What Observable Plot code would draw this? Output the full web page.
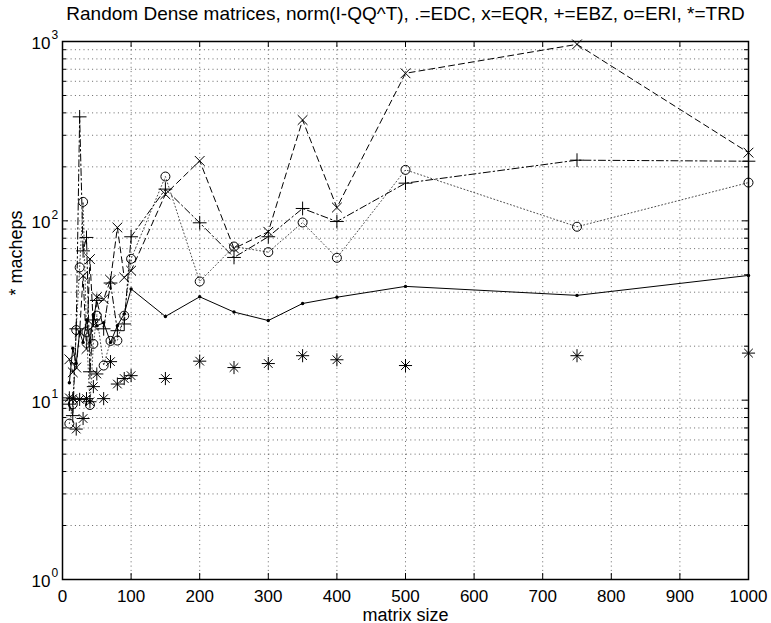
<!DOCTYPE html>
<html><head><meta charset="utf-8">
<script src="https://cdn.jsdelivr.net/npm/d3@7"></script>
<script src="https://cdn.jsdelivr.net/npm/@observablehq/plot@0.6"></script>
<style>body{margin:0;background:#fff}</style>
</head><body><div id="chart"></div>
<script>
const titleText = "Random Dense matrices, norm(I-QQ^T), .=EDC, x=EQR, +=EBZ, o=ERI, *=TRD";
const xLabel = "matrix size";
const yLabel = "* macheps";

const sizes = [10,15,20,25,30,35,40,45,50,60,70,80,90,100,150,200,250,300,350,400,500,750,1000];
const edc = [12.5,19.5,16,24,21,28,21,30,26,27,21,26,30.3,41.7,29.3,37.7,31.0,27.8,34.6,37.5,43.1,38.4,49.6];
const eqr = [16.9,14.3,15.2,24,49.4,19.3,61.2,26,37.5,36.6,46.7,91.8,48.3,52.7,140.7,216,70.1,86.9,365,118.6,665,964,240];
const ebz = [9.5,8.2,25,380,68,80.8,14.4,28,36,25,45,24.4,26.6,81.5,150.3,97.5,62.5,81.5,117.2,99.1,162.2,217.9,215];
const eri = [7.4,9.5,24.6,55.0,127.6,24,9.4,20.6,29.6,15.6,21.4,21.5,29.6,61.4,176.6,45.9,71.9,66.9,97.9,62.2,192.4,92.7,163.4];
const trd = [10.3,10.2,6.9,10.1,7.9,10.2,9.8,11.9,14.0,10.2,16.4,12.3,13.2,13.7,13.2,16.5,15.2,16.0,17.7,16.8,15.6,17.7,18.3];

const xTicks = [0,100,200,300,400,500,600,700,800,900,1000];
const yDecades = [1,10,100,1000];
const yMinor = [2,3,4,5,6,7,8,9,20,30,40,50,60,70,80,90,200,300,400,500,600,700,800,900];

const rows = vals => sizes.map((n, i) => ({n, v: vals[i]}));
const EDC = rows(edc), EQR = rows(eqr), EBZ = rows(ebz), ERI = rows(eri), TRD = rows(trd);

const W = 771, H = 623, mL = 62, mR = 23, mT = 41, mB = 44;
const fw = W - mL - mR, fh = H - mT - mB;
const font = "'Liberation Sans', Arial, Helvetica, sans-serif";
const grid = {stroke: "#000", strokeOpacity: 0.6, strokeDasharray: "1,3.3", strokeWidth: 1};
const mk = {x: "n", y: "v", stroke: "#000", fill: "none", strokeWidth: 1};

const chart = Plot.plot({
  width: W, height: H,
  marginLeft: mL, marginRight: mR, marginTop: mT, marginBottom: mB,
  style: {fontFamily: font, fontSize: "17px", background: "white", color: "black", overflow: "visible"},
  x: {domain: [0, 1000], axis: null},
  y: {type: "log", domain: [1, 1000], axis: null},
  marks: [
    Plot.ruleX(xTicks.slice(1, -1), {x: d => d, ...grid}),
    Plot.ruleY(yDecades.slice(1, -1).concat(yMinor), {y: d => d, ...grid}),
    // ticks (inward)
    Plot.tickX(xTicks, {x: d => d, stroke: "#000", insetTop: fh - 6}),
    Plot.tickX(xTicks, {x: d => d, stroke: "#000", insetBottom: fh - 6}),
    Plot.tickY(yDecades, {y: d => d, stroke: "#000", insetRight: fw - 6}),
    Plot.tickY(yDecades, {y: d => d, stroke: "#000", insetLeft: fw - 6}),
    Plot.tickY(yMinor, {y: d => d, stroke: "#000", insetRight: fw - 4}),
    Plot.tickY(yMinor, {y: d => d, stroke: "#000", insetLeft: fw - 4}),
    // lines
    Plot.line(EDC, {x: "n", y: "v", stroke: "#000", strokeWidth: 1}),
    Plot.line(EQR, {x: "n", y: "v", stroke: "#000", strokeWidth: 1, strokeDasharray: "6,4"}),
    Plot.line(EBZ, {x: "n", y: "v", stroke: "#000", strokeWidth: 1, strokeDasharray: "7,3,1.5,3"}),
    Plot.line(ERI, {x: "n", y: "v", stroke: "#000", strokeOpacity: 0.7, strokeWidth: 1, strokeDasharray: "1,2.5"}),
    // markers
    Plot.dot(EDC, {x: "n", y: "v", r: 1.7, fill: "#000", stroke: null}),
    Plot.dot(EQR, {...mk, symbol: "times", r: 4.5}),
    Plot.dot(EBZ, {...mk, symbol: "plus", r: 4.5}),
    Plot.dot(ERI, {...mk, symbol: "circle", r: 4.5}),
    Plot.dot(TRD, {...mk, symbol: "plus", r: 4.3}),
    Plot.dot(TRD, {...mk, symbol: "times", r: 4.0}),
    Plot.frame({stroke: "#000", strokeWidth: 1.5}),
    // texts
    Plot.text([titleText], {text: d => d, frameAnchor: "top", dy: -22, lineAnchor: "bottom", fontSize: 19}),
    Plot.text(xTicks, {x: d => d, text: d => String(d), frameAnchor: "bottom", dy: 10, lineAnchor: "top"}),
    Plot.text(yDecades, {y: d => d, text: () => "10", frameAnchor: "left", dx: -12, dy: 2, textAnchor: "end"}),
    Plot.text(yDecades, {y: d => d, text: d => String(Math.round(Math.log10(d))), frameAnchor: "left", dx: -11, dy: -6, textAnchor: "start", fontSize: 12}),
    Plot.text([xLabel], {text: d => d, frameAnchor: "bottom", dy: 41, lineAnchor: "bottom", fontSize: 18}),
    Plot.text([yLabel], {text: d => d, frameAnchor: "left", dx: -46, dy: -15, rotate: -90, fontSize: 18})
  ]
});
document.getElementById("chart").appendChild(chart);
</script>
</body></html>
